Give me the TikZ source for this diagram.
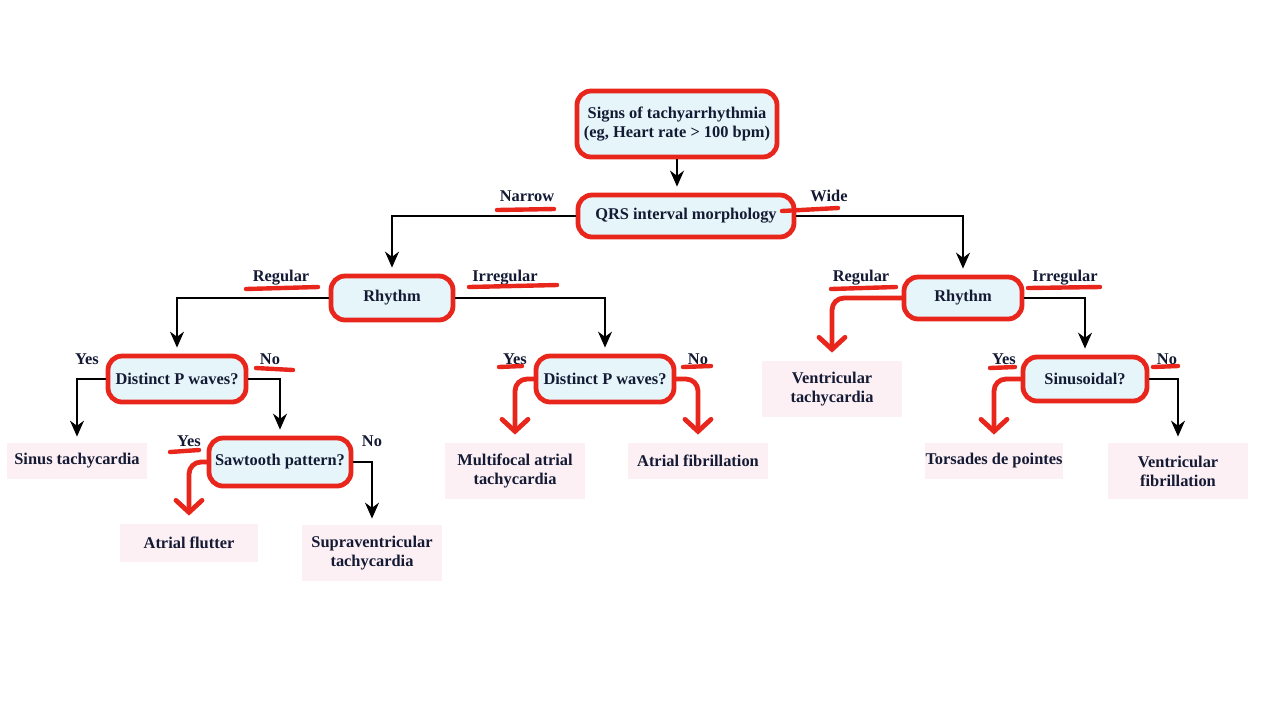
\documentclass[tikz,border=0pt]{standalone}
\usepackage{fontspec}
\setmainfont{Liberation Serif}
\usetikzlibrary{arrows.meta}
\definecolor{txt}{HTML}{141A33}
\definecolor{hred}{HTML}{E8261C}
\definecolor{bfill}{HTML}{E6F5FA}
\definecolor{pfill}{HTML}{FCF0F5}
\tikzset{
  every node/.style={font=\fontsize{8.2}{9.6}\selectfont\bfseries, text=txt, align=center},
  decbox/.style={draw=hred, line width=2.4pt, fill=bfill, rounded corners=7pt, inner sep=0pt},
  leafbox/.style={fill=pfill, inner sep=0pt},
  lbl/.style={inner sep=1pt},
  conn/.style={draw=black, line width=0.8pt, -{Stealth[length=8pt,width=7pt]}, shorten >=3pt},
  redconn/.style={draw=hred, line width=2.4pt, line cap=round, line join=round, rounded corners=6pt, -{Straight Barb[length=6pt,width=13pt,line cap=round]}, shorten >=4pt},
  uline/.style={draw=hred, line width=2.2pt, line cap=round}
}
\begin{document}
\begin{tikzpicture}[x=0.5pt,y=-0.5pt]
\useasboundingbox[fill=white] (0,0) rectangle (1280,720);
% decision boxes
\node[decbox, minimum width=100pt, minimum height=33pt] (top) at (677,124) {Signs of tachyarrhythmia\\(eg, Heart rate > 100 bpm)};
\node[decbox, minimum width=108pt, minimum height=21pt] (qrs) at (686,216) {QRS interval morphology};
\node[decbox, minimum width=61pt, minimum height=22pt] (rhyL) at (392,298) {Rhythm};
\node[decbox, minimum width=59pt, minimum height=21pt] (rhyR) at (963,298) {Rhythm};
\node[decbox, minimum width=69pt, minimum height=23pt] (dpL) at (177,379) {Distinct P waves?};
\node[decbox, minimum width=71pt, minimum height=24pt] (saw) at (280,462) {Sawtooth pattern?};
\node[decbox, minimum width=69pt, minimum height=23pt] (dpM) at (605,379) {Distinct P waves?};
\node[decbox, minimum width=62pt, minimum height=22pt] (sin) at (1085,379) {Sinusoidal?};
% leaves
\node[leafbox, minimum width=70pt, minimum height=18pt] (sinus) at (77,461) {Sinus tachycardia};
\node[leafbox, minimum width=69pt, minimum height=19pt] (flutter) at (189,543) {Atrial flutter};
\node[leafbox, minimum width=70pt, minimum height=28pt] (svt) at (372,553) {Supraventricular\\tachycardia};
\node[leafbox, minimum width=70pt, minimum height=28pt] (mat) at (515,471) {Multifocal atrial\\tachycardia};
\node[leafbox, minimum width=70pt, minimum height=18pt] (afib) at (698,461) {Atrial fibrillation};
\node[leafbox, minimum width=70pt, minimum height=28pt] (vt) at (832,389) {Ventricular\\tachycardia};
\node[leafbox, minimum width=69pt, minimum height=18pt] (tdp) at (994,461) {Torsades de pointes};
\node[leafbox, minimum width=70pt, minimum height=28pt] (vf) at (1178,471) {Ventricular\\fibrillation};
% labels
\node[lbl] (lnarrow) at (527,196) {Narrow};
\node[lbl] (lwide) at (829,196) {Wide};
\node[lbl] (lregL) at (281,278) {Regular};
\node[lbl] (lirrL) at (505,278) {Irregular};
\node[lbl] (lregR) at (861,278) {Regular};
\node[lbl] (lirrR) at (1065,278) {Irregular};
\node[lbl] (lyes1) at (87,359) {Yes};
\node[lbl] (lno1) at (270,359) {No};
\node[lbl] (lyes2) at (189,441) {Yes};
\node[lbl] (lno2) at (372,441) {No};
\node[lbl] (lyes3) at (515,359) {Yes};
\node[lbl] (lno3) at (698,359) {No};
\node[lbl] (lyes4) at (1004,359) {Yes};
\node[lbl] (lno4) at (1167,359) {No};
% connectors
\draw[conn] (top.south) -- (top.south |- qrs.north);
\draw[conn] (qrs.west) -| (rhyL.north);
\draw[conn] (qrs.east) -| (rhyR.north);
\draw[conn] (rhyL.west) -| (dpL.north);
\draw[conn] (rhyL.east) -| (dpM.north);
\draw[conn] (dpL.west) -| (sinus.north);
\draw[conn] (dpL.east) -| (saw.north);
\draw[conn] (saw.east) -| (svt.north);
\draw[conn] (rhyR.east) -| (sin.north);
\draw[conn] (sin.east) -| (vf.north);
\draw[redconn] (saw.west) -| (flutter.north);
\draw[redconn] (dpM.west) -| (mat.north);
\draw[redconn] (dpM.east) -| (afib.north);
\draw[redconn] (rhyR.west) -| (vt.north);
\draw[redconn] (sin.west) -| (tdp.north);
% red underlines
\draw[uline] (497,210) -- (554,209);
\draw[uline] (782,211) -- (838,208);
\draw[uline] (246,289) -- (318,287);
\draw[uline] (469,287) -- (557,285);
\draw[uline] (831,289) -- (896,287);
\draw[uline] (1028,288) -- (1100,287);
\draw[uline] (256,368) -- (293,370);
\draw[uline] (499,367) -- (522,366);
\draw[uline] (683,367) -- (711,366);
\draw[uline] (170,452) -- (199,450);
\draw[uline] (990,368) -- (1015,367);
\draw[uline] (1153,367) -- (1178,366);
\end{tikzpicture}
\end{document}
